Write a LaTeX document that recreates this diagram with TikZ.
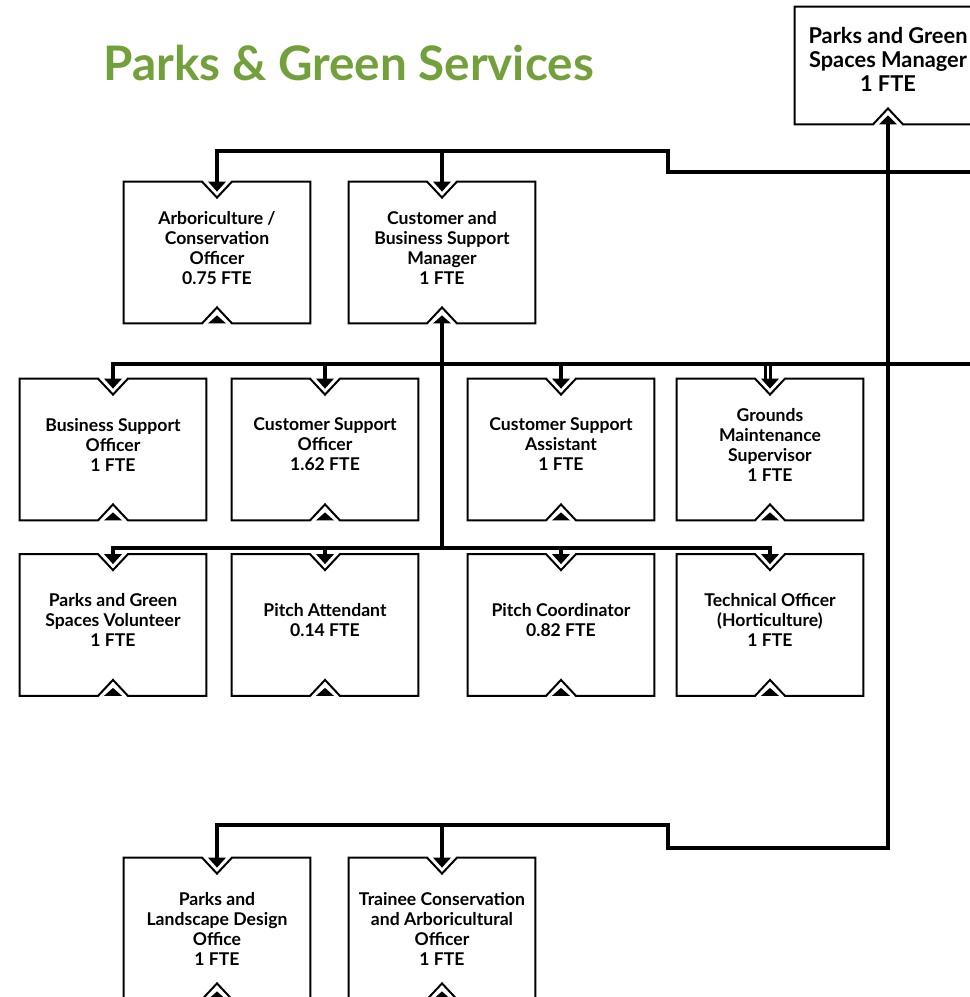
\documentclass[tikz,border=0pt]{standalone}
\usepackage{fontspec}
\setmainfont{Lato}
\usetikzlibrary{calc}
\definecolor{parkgreen}{RGB}{114,160,58}

% box outline with a notch on top and bottom
\newcommand{\notchbox}[1]{%
  \draw[boxline] (#1.north west) -- ($(#1.north)+(-15,0)$) -- ($(#1.north)+(0,16)$)
    -- ($(#1.north)+(15,0)$) -- (#1.north east) -- (#1.south east)
    -- ($(#1.south)+(15,0)$) -- ($(#1.south)+(0,-16)$) -- ($(#1.south)+(-15,0)$)
    -- (#1.south west) -- cycle;
  \fill ($(#1.north)+(-9,0)$) -- ($(#1.north)+(9,0)$) -- ($(#1.north)+(0,10)$) -- cycle;
  \fill ($(#1.south)+(-9,0)$) -- ($(#1.south)+(9,0)$) -- ($(#1.south)+(0,-8)$) -- cycle;
}

\begin{document}
\begin{tikzpicture}[x=0.5pt, y=-0.5pt,
    orgbox/.style={minimum width=93pt, minimum height=70.5pt, inner sep=0pt, align=center,
      text depth=5pt, font=\bfseries\fontsize{8.8}{10}\selectfont},
    topbox/.style={orgbox, minimum height=58.5pt, text depth=6pt,
      font=\bfseries\fontsize{10.9}{12}\selectfont},
    boxline/.style={line width=1pt, line join=miter},
    conn/.style={line width=2pt, line join=miter}]
  \useasboundingbox (0,0) rectangle (970,997);

  \node[anchor=base west, inner sep=0pt, text=parkgreen,
    font=\bfseries\fontsize{23.8}{28}\selectfont]
    (title) at (103,80) {Parks \& Green Services};

  % manager
  \node[topbox] (mgr) at (888,65.5) {Parks and Green\\Spaces Manager\\1 FTE};
  \draw[boxline] (mgr.north west) -- (mgr.north east) -- (mgr.south east)
    -- ($(mgr.south)+(15,0)$) -- ($(mgr.south)+(0,-16)$) -- ($(mgr.south)+(-15,0)$)
    -- (mgr.south west) -- cycle;
  \fill ($(mgr.south)+(-9,0)$) -- ($(mgr.south)+(9,0)$) -- ($(mgr.south)+(0,-9)$) -- cycle;

  % row 1
  \node[orgbox] (arbo) at (217,252.5) {Arboriculture /\\Conservation\\Officer\\0.75 FTE};
  \node[orgbox] (cbsm) at (442,252.5) {Customer and\\Business Support\\Manager\\1 FTE};

  % row 2
  \node[orgbox] (bso) at (113,449.5) {Business Support\\Officer\\1 FTE};
  \node[orgbox] (cso) at (325,449.5) {Customer Support\\Officer\\1.62 FTE};
  \node[orgbox] (csa) at (561,449.5) {Customer Support\\Assistant\\1 FTE};
  \node[orgbox] (gms) at (770,449.5) {Grounds\\Maintenance\\Supervisor\\1 FTE};

  % row 3
  \node[orgbox] (pgv) at (113,625) {Parks and Green\\Spaces Volunteer\\1 FTE};
  \node[orgbox] (pat) at (325,625) {Pitch Attendant\\0.14 FTE};
  \node[orgbox] (pco) at (561,625) {Pitch Coordinator\\0.82 FTE};
  \node[orgbox] (toh) at (770,625) {Technical Officer\\(Horticulture)\\1 FTE};

  % row 4
  \node[orgbox, text depth=0pt] (pld) at (217,928.5) {Parks and\\Landscape Design\\Office\\1 FTE};
  \node[orgbox, text depth=0pt] (tca) at (442,928.5) {Trainee Conservation\\and Arboricultural\\Officer\\1 FTE};

  \foreach \b in {arbo,cbsm,bso,cso,csa,gms,pgv,pat,pco,toh,pld,tca}
    \notchbox{\b};

  \coordinate (rowA) at (990,172);
  \coordinate (bendA) at (668,172);
  \coordinate (busA) at (668,151);
  \coordinate (busB) at (990,364);
  \coordinate (busC) at (442,548);
  \coordinate (bendD) at (668,848);
  \coordinate (busD) at (668,825);
  \coordinate (gmsL) at ($(gms.north)+(-5,0)$);
  \coordinate (gmsR) at ($(gms.north)+(0,0)$);

  % connectors
  \draw[conn] (rowA) -- (bendA) -- (busA) -| ([yshift=-1pt]arbo.north);
  \draw[conn] (busA -| cbsm.north) -- ([yshift=-1pt]cbsm.north);

  \draw[conn] (busB) -| ([yshift=-1pt]bso.north);
  \draw[conn] (busB -| cso.north) -- ([yshift=-1pt]cso.north);
  \draw[conn] (busB -| csa.north) -- ([yshift=-1pt]csa.north);
  \draw[conn, line width=1.5pt] (busB -| gmsL) -- ([yshift=-1pt]gmsL);
  \draw[conn, line width=1.5pt] (busB -| gmsR) -- ([yshift=-1pt]gmsR);

  \draw[conn] (cbsm.south) -- (busC);
  \draw[conn] ([yshift=-1pt]pgv.north) |- (busC) -| ([yshift=-1pt]toh.north);
  \draw[conn] (busC -| pat.north) -- ([yshift=-1pt]pat.north);
  \draw[conn] (busC -| pco.north) -- ([yshift=-1pt]pco.north);

  \draw[conn] (mgr.south) |- (bendD) -- (busD) -| ([yshift=-1pt]pld.north);
  \draw[conn] (busD -| tca.north) -- ([yshift=-1pt]tca.north);
\end{tikzpicture}
\end{document}
